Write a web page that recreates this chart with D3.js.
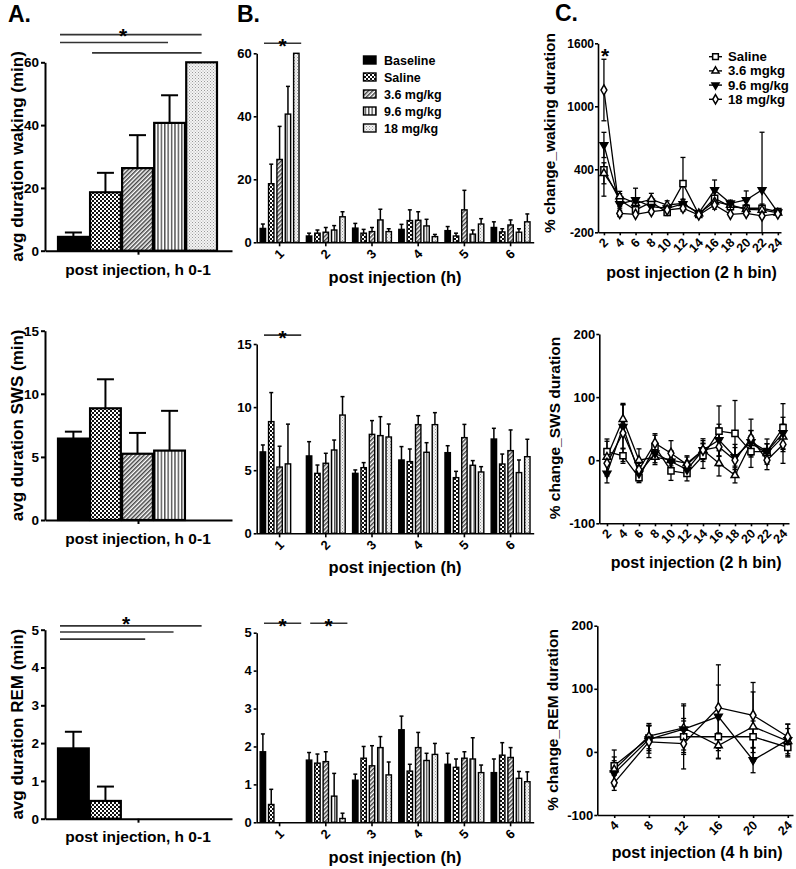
<!DOCTYPE html>
<html><head><meta charset="utf-8">
<script src="https://cdn.jsdelivr.net/npm/d3@7"></script>
<style>body{margin:0;background:#fff}</style>
</head><body><svg id="c" width="796" height="869"></svg>
<script>
// ---------------- DATA ----------------
const groups = ["Baseline","Saline","3.6 mg/kg","9.6 mg/kg","18 mg/kg"];
const hours = ["1","2","3","4","5","6"];

// Panel A: h 0-1
const wakeA = [4.4,18.6,26.3,40.7,60.0];
const wakeAErr = [1.4,6.2,10.5,8.8,0];
const swsA = [6.45,8.85,5.25,5.5,null];
const swsAErr = [0.55,2.3,1.65,3.15,null];
const remA = [1.86,0.47,0,0,0];
const remAErr = [0.44,0.38,0,0,0];

// Panel B: per hour
const wakeBaseline = [4.4,2.0,4.5,4.1,3.7,4.7];
const wakeBaselineErr = [1.4,0.9,1.5,1.6,1.3,1.8];
const wakeSaline = [18.6,2.9,2.9,6.9,2.0,3.3];
const wakeSalineErr = [6.2,1.0,1.2,3.4,0.9,1.0];
const wake36 = [26.3,3.2,3.4,7.0,10.3,5.5];
const wake36Err = [10.5,1.5,1.3,2.7,6.2,1.6];
const wake96 = [40.7,3.9,7.1,5.2,2.6,3.2];
const wake96Err = [8.8,1.4,3.4,2.1,1.3,1.1];
const wake18 = [60.0,8.1,3.4,1.8,5.8,6.5];
const wake18Err = [0,1.6,0.9,0.7,1.7,2.5];

const swsBaseline = [6.45,6.13,4.75,5.81,6.39,7.47];
const swsBaselineErr = [0.55,1.13,0.27,1.06,0.55,0.85];
const swsSaline = [8.85,4.75,5.2,5.68,4.41,5.49];
const swsSalineErr = [2.3,0.66,0.4,1.0,0.5,0.79];
const sws36 = [5.25,5.55,7.84,8.61,7.58,6.55];
const sws36Err = [1.65,0.79,1.09,0.71,1.05,1.64];
const sws96 = [5.5,6.6,7.74,6.42,5.39,4.81];
const sws96Err = [3.15,0.79,1.5,0.76,0.37,1.0];
const sws18 = [null,9.37,7.63,8.61,4.86,6.07];
const sws18Err = [null,1.46,1.03,0.95,0.42,1.38];

const remBaseline = [1.86,1.64,1.11,2.44,1.53,1.31];
const remBaselineErr = [0.47,0.2,0.16,0.36,0.29,0.36];
const remSaline = [0.47,1.56,1.69,1.35,1.45,1.77];
const remSalineErr = [0.4,0.24,0.31,0.18,0.22,0.33];
const rem36 = [0,1.60,1.49,1.97,1.69,1.71];
const rem36Err = [0,0.26,0.53,0.4,0.17,0.26];
const rem96 = [0,0.69,1.97,1.63,1.67,1.16];
const rem96Err = [0,0.6,0.29,0.19,0.56,0.18];
const rem18 = [0,0.1,1.25,1.79,1.31,1.07];
const rem18Err = [0,0.14,0.34,0.29,0.2,0.26];

// Panel C: % change
const cSeries = ["Saline","3.6 mgkg","9.6 mg/kg","18 mg/kg"];
const bins2 = [2,4,6,8,10,12,14,16,18,20,22,24];
const bins4 = [4,8,12,16,20,24];

const wakeCSaline = [394,108,13,86,-10,263,-29,124,44,29,29,-3];
const wakeCSalineErr = [250,60,30,40,30,250,15,60,30,35,40,20];
const wakeC36 = [362,140,76,114,60,76,-20,92,60,19,13,-15];
const wakeC36Err = [100,50,40,57,40,40,15,50,30,30,30,15];
const wakeC96 = [632,70,108,44,29,70,-15,203,76,108,203,-10];
const wakeC96Err = [120,40,112,40,30,40,15,95,30,86,550,15];
const wakeC18 = [1155,-20,-29,-3,13,29,-35,60,-29,-19,-44,-25];
const wakeC18Err = [293,30,20,20,20,30,15,40,15,20,15,15];

const swsCSaline = [13.6,7,-27.6,21.5,-17,-20.8,7,46,42.6,13.6,13.6,51.6];
const swsCSalineErr = [20,12,8,18,15,12,20,40,52,25,20,38];
const swsC36 = [5,65,0,5,0,-5,16,-5,-24,27,11,37];
const swsC36Err = [25,25,18,12,15,12,15,20,12,20,15,20];
const swsC96 = [-21,53,-21,11,-2,-15,16,32,5,29,14,43];
const swsC96Err = [15,35,12,15,15,10,18,25,20,18,12,25];
const swsC18 = [-5,43,-15,27,11,-7,16,21,0,35,0,25];
const swsC18Err = [20,45,10,15,20,12,10,30,20,30,15,30];

const remCSaline = [-22,22,24,24,24,7];
const remCSalineErr = [25,20,25,35,25,15];
const remC36 = [-28,25,38,10,40,17];
const remC36Err = [20,20,35,20,55,20];
const remC96 = [-34,20,36,56,-13,19];
const remC96Err = [20,22,40,50,20,25];
const remC18 = [-49,16,13,70,58,24];
const remC18Err = [12,25,40,68,52,20];

// ---------------- DRAWING ----------------
const FONT = '"Liberation Sans", Arial, Helvetica, sans-serif';
const svg = d3.select("#c");
svg.append("rect").attr("width",796).attr("height",869).attr("fill","#fff");
const defs = svg.append("defs");
function pat(id,w,h,fn,tr){const p=defs.append("pattern").attr("id",id).attr("patternUnits","userSpaceOnUse").attr("width",w).attr("height",h);if(tr)p.attr("patternTransform",tr);fn(p);}
pat("pSal",4,4,p=>{p.append("rect").attr("width",4).attr("height",4).attr("fill","#fff");
  p.append("rect").attr("width",2).attr("height",2).attr("fill","#111");
  p.append("rect").attr("x",2).attr("y",2).attr("width",2).attr("height",2).attr("fill","#111");});
pat("p36",3,3,p=>{p.append("rect").attr("width",3).attr("height",3).attr("fill","#fff");
  p.append("rect").attr("width",1.5).attr("height",3).attr("fill","#444");},"rotate(45)");
pat("p96",3.4,4,p=>{p.append("rect").attr("width",3.4).attr("height",4).attr("fill","#fff");
  p.append("rect").attr("x",1).attr("width",1.2).attr("height",4).attr("fill","#333");});
pat("p18",3,3,p=>{p.append("rect").attr("width",3).attr("height",3).attr("fill","#f4f4f4");
  p.append("rect").attr("width",1).attr("height",1).attr("fill","#999");
  p.append("rect").attr("x",1.5).attr("y",1.5).attr("width",1).attr("height",1).attr("fill","#aaa");});
const fills = ["#000","url(#pSal)","url(#p36)","url(#p96)","url(#p18)"];
const plain = d=>String(d);

function txt(x,y,s,size,anchor,rot){
  const t=svg.append("text").attr("x",0).attr("y",0).attr("font-family",FONT).attr("font-weight","bold")
    .attr("font-size",size).attr("text-anchor",anchor||"middle").attr("fill","#000").text(s);
  t.attr("transform",`translate(${x},${y})`+(rot?` rotate(${rot})`:""));
  return t;
}
function styleAxis(g,w,fs){
  g.attr("font-family",FONT).attr("font-weight","bold").attr("font-size",fs);
  g.select(".domain").attr("stroke","#000").attr("stroke-width",w);
  g.selectAll(".tick line").attr("stroke","#000").attr("stroke-width",w);
  g.selectAll(".tick text").attr("fill","#000");
}

// panel labels
txt(8,22,"A.",23,"start");
txt(237,22,"B.",23,"start");
txt(555,21,"C.",23,"start");

// ---- Panel A ----
function panelA(c){
  const y=d3.scaleLinear().domain(c.dom).range(c.range);
  const x=d3.scaleBand().domain(groups).range([58,217]).paddingInner(0.04);
  const d=groups.map((g,i)=>({g,i,v:c.vals[i],e:c.errs[i]})).filter(d=>d.v!=null);
  svg.append("g").selectAll("rect").data(d).join("rect")
    .attr("x",d=>x(d.g)).attr("width",x.bandwidth())
    .attr("y",d=>y(d.v)).attr("height",d=>y(0)-y(d.v))
    .attr("fill",d=>fills[d.i]).attr("stroke","#000").attr("stroke-width",2.2);
  const eb=svg.append("g").attr("stroke","#000").attr("stroke-width",2);
  d.filter(d=>d.e>0).forEach(d=>{
    const cx=x(d.g)+x.bandwidth()/2;
    eb.append("line").attr("x1",cx).attr("x2",cx).attr("y1",y(d.v)).attr("y2",y(d.v+d.e));
    eb.append("line").attr("x1",cx-8.5).attr("x2",cx+8.5).attr("y1",y(d.v+d.e)).attr("y2",y(d.v+d.e));
  });
  const ga=svg.append("g").attr("transform","translate(45,0)")
    .call(d3.axisLeft(y).tickValues(c.ticks).tickFormat(plain).tickSize(4).tickPadding(2).tickSizeOuter(0));
  styleAxis(ga,2,13.5);
  const gx=svg.append("g").attr("transform",`translate(0,${y(0)})`)
    .call(d3.axisBottom(d3.scaleBand().domain([""]).range([45,232])).tickSize(4).tickSizeOuter(0).tickFormat(""));
  styleAxis(gx,2,13);
  txt(23,(c.range[0]+c.range[1])/2,c.title,17,"middle",-90);
  txt(138,c.xTitleY,"post injection, h 0-1",15.5,"middle");
  const sg=svg.append("g").attr("stroke","#333").attr("stroke-width",1.6);
  c.sig.forEach(s=>{
    sg.append("line").attr("x1",x(groups[s[0]])+2).attr("x2",x(groups[s[1]])+x.bandwidth()*s[2])
      .attr("y1",y(s[3])).attr("y2",y(s[3]));
  });
  if(c.star) txt(c.star[0],y(c.sig[0][3])+c.star[1],"*",21,"middle");
}
panelA({dom:[0,60],range:[250.7,62.3],ticks:[0,20,40,60],vals:wakeA,errs:wakeAErr,
  title:"avg duration waking (min)",xTitleY:275,
  sig:[[0,4,0.5,68.8],[0,3,0.45,66.3],[1,4,0.5,63.0]],star:[123,8]});
panelA({dom:[0,15],range:[520,330.7],ticks:[0,5,10,15],vals:swsA,errs:swsAErr,
  title:"avg duration SWS (min)",xTitleY:544,sig:[]});
panelA({dom:[0,5],range:[818.7,629.7],ticks:[0,1,2,3,4,5],vals:remA,errs:remAErr,
  title:"avg duration REM (min)",xTitleY:842,
  sig:[[0,4,0.5,5.10],[0,3,0.63,4.94],[0,2,0.75,4.75]],star:[126,5]});

// ---- Panel B ----
function panelB(c){
  const y=d3.scaleLinear().domain(c.dom).range(c.range);
  const x=d3.scaleBand().domain(hours).range([256.5,533.7]);
  const xi=d3.scaleBand().domain(groups).range([0,x.bandwidth()]).paddingInner(0.354).paddingOuter(0.44);
  const d=[];
  hours.forEach((h,hi)=>groups.forEach((g,gi)=>{const v=c.series[gi][hi];if(v!=null)d.push({h,g,gi,v,e:c.errs[gi][hi]});}));
  svg.append("g").selectAll("rect").data(d).join("rect")
    .attr("x",d=>x(d.h)+xi(d.g)).attr("width",xi.bandwidth())
    .attr("y",d=>y(d.v)).attr("height",d=>y(0)-y(d.v))
    .attr("fill",d=>fills[d.gi]).attr("stroke","#000").attr("stroke-width",1.4);
  const eb=svg.append("g").attr("stroke","#000").attr("stroke-width",1.5);
  d.filter(d=>d.e>0).forEach(d=>{
    const cx=x(d.h)+xi(d.g)+xi.bandwidth()/2;
    eb.append("line").attr("x1",cx).attr("x2",cx).attr("y1",y(d.v)).attr("y2",y(d.v+d.e));
    eb.append("line").attr("x1",cx-2).attr("x2",cx+2).attr("y1",y(d.v+d.e)).attr("y2",y(d.v+d.e));
  });
  const ga=svg.append("g").attr("transform","translate(256.7,0)")
    .call(d3.axisLeft(y).tickValues(c.ticks).tickFormat(plain).tickSize(3).tickPadding(2).tickSizeOuter(0));
  styleAxis(ga,1.6,13);
  const gx=svg.append("g").attr("transform",`translate(0,${y(0)})`)
    .call(d3.axisBottom(x).tickSize(4).tickSizeOuter(0).tickFormat(""));
  styleAxis(gx,1.6,13);
  hours.forEach(h=>txt(x(h)+x.bandwidth()/2+2,y(0)+9,h,13,"end",-45).attr("dy","0.35em"));
  txt(395,c.xTitleY,"post injection (h)",16.5,"middle");
  const sg=svg.append("g").attr("stroke","#333").attr("stroke-width",1.6);
  c.sig.forEach(h=>{
    sg.append("line").attr("x1",x(h)+7.5).attr("x2",x(h)+x.bandwidth()-1.5).attr("y1",y(c.sigLevel)).attr("y2",y(c.sigLevel));
    txt(x(h)+26,y(c.sigLevel)+10,"*",21,"middle");
  });
}
panelB({dom:[0,60],range:[242.3,53.3],ticks:[0,20,40,60],
  series:[wakeBaseline,wakeSaline,wake36,wake96,wake18],errs:[wakeBaselineErr,wakeSalineErr,wake36Err,wake96Err,wake18Err],
  xTitleY:283,sig:["1"],sigLevel:63.2});
panelB({dom:[0,15],range:[533.3,344],ticks:[0,5,10,15],
  series:[swsBaseline,swsSaline,sws36,sws96,sws18],errs:[swsBaselineErr,swsSalineErr,sws36Err,sws96Err,sws18Err],
  xTitleY:573,sig:["1"],sigLevel:15.7});
panelB({dom:[0,5],range:[822.3,632.7],ticks:[0,1,2,3,4,5],
  series:[remBaseline,remSaline,rem36,rem96,rem18],errs:[remBaselineErr,remSalineErr,rem36Err,rem96Err,rem18Err],
  xTitleY:863,sig:["1","2"],sigLevel:5.25});
// legend B
const lgB=svg.append("g");
groups.forEach((g,i)=>{
  const cy=60+i*17;
  lgB.append("rect").attr("x",363.5).attr("y",cy-4).attr("width",12.5).attr("height",8)
    .attr("fill",fills[i]).attr("stroke","#000").attr("stroke-width",1.4);
  txt(384,cy+4.5,g,12.5,"start");
});

// ---- Panel C ----
const symT=[d3.symbolSquare,d3.symbolTriangle,d3.symbolTriangle,d3.symbolDiamond];
const symRot=[0,0,180,0];
const symFill=["#fff","#fff","#000","#fff"];
const symSize=[38,26,26,30];
function marker(g,x,y,i,scale){
  g.append("path").attr("d",d3.symbol(symT[i],symSize[i]*(scale||1))())
    .attr("transform",`translate(${x},${y}) rotate(${symRot[i]})`)
    .attr("fill",symFill[i]).attr("stroke","#000").attr("stroke-width",1.5);
}
function panelC(c){
  const y=d3.scaleLinear().domain(c.dom).range(c.range);
  const x=d3.scaleLinear().domain(c.xdom).range(c.xrange);
  const g=svg.append("g");
  c.series.forEach((s,si)=>{
    g.append("path").datum(s).attr("fill","none").attr("stroke","#000").attr("stroke-width",1.3)
      .attr("d",d3.line().x((v,i)=>x(c.bins[i])).y(v=>y(v)));
  });
  const eb=g.append("g").attr("stroke","#000").attr("stroke-width",1.3);
  c.series.forEach((s,si)=>s.forEach((v,i)=>{
    const e=c.errs[si][i], cx=x(c.bins[i]);
    const top=Math.min(v+e,c.dom[1]), bot=Math.max(v-e,c.dom[0]);
    eb.append("line").attr("x1",cx).attr("x2",cx).attr("y1",y(bot)).attr("y2",y(top));
    eb.append("line").attr("x1",cx-2.5).attr("x2",cx+2.5).attr("y1",y(top)).attr("y2",y(top));
    if(bot>c.dom[0]) eb.append("line").attr("x1",cx-2.5).attr("x2",cx+2.5).attr("y1",y(bot)).attr("y2",y(bot));
  }));
  c.series.forEach((s,si)=>s.forEach((v,i)=>marker(g,x(c.bins[i]),y(v),si)));
  const ga=svg.append("g").attr("transform",`translate(${c.xrange[0]},0)`)
    .call(d3.axisLeft(y).tickValues(c.ticks).tickFormat(plain).tickSize(3).tickPadding(1).tickSizeOuter(0));
  styleAxis(ga,1.6,c.tfs);
  const gx=svg.append("g").attr("transform",`translate(0,${y(c.dom[0])})`)
    .call(d3.axisBottom(x).tickValues(c.bins).tickSize(3).tickSizeOuter(0).tickFormat(""));
  styleAxis(gx,1.6,12.5);
  c.bins.forEach(b=>txt(x(b)+2,y(c.dom[0])+8,String(b),12.5,"end",-45).attr("dy","0.35em"));
  txt(c.yTitleX,c.yTitleY,c.title,15.5,"middle",-90);
  txt((c.xrange[0]+c.xrange[1])/2+2,c.xTitleY,c.xTitle,16,"middle");
}
panelC({dom:[-200,1600],range:[232.3,43.3],ticks:[-200,400,1000,1600],tfs:12,
  xdom:[1.25,24.4],xrange:[598,781],bins:bins2,
  series:[wakeCSaline,wakeC36,wakeC96,wakeC18],errs:[wakeCSalineErr,wakeC36Err,wakeC96Err,wakeC18Err],
  title:"% change_waking duration",yTitleX:555,yTitleY:133,xTitle:"post injection (2 h bin)",xTitleY:278});
panelC({dom:[-100,200],range:[523.3,334],ticks:[-100,0,100,200],tfs:13,
  xdom:[1.04,24.75],xrange:[599.3,789],bins:bins2,
  series:[swsCSaline,swsC36,swsC96,swsC18],errs:[swsCSalineErr,swsC36Err,swsC96Err,swsC18Err],
  title:"% change_SWS duration",yTitleX:560,yTitleY:428,xTitle:"post injection (2 h bin)",xTitleY:568});
panelC({dom:[-100,200],range:[815,625.7],ticks:[-100,0,100,200],tfs:13,
  xdom:[2.05,24.6],xrange:[597.3,793],bins:bins4,
  series:[remCSaline,remC36,remC96,remC18],errs:[remCSalineErr,remC36Err,remC96Err,remC18Err],
  title:"% change_REM duration",yTitleX:558,yTitleY:720,xTitle:"post injection (4 h bin)",xTitleY:858});
// star in C top
txt(605,63,"*",21,"middle");
// legend C
const lgC=svg.append("g");
cSeries.forEach((s,i)=>{
  const cy=56.7+i*14.2;
  lgC.append("line").attr("x1",709).attr("x2",722).attr("y1",cy).attr("y2",cy).attr("stroke","#000").attr("stroke-width",1.4);
  marker(lgC,715.5,cy,i,0.85);
  txt(728,cy+4.5,s,13.2,"start");
});
</script></body></html>
